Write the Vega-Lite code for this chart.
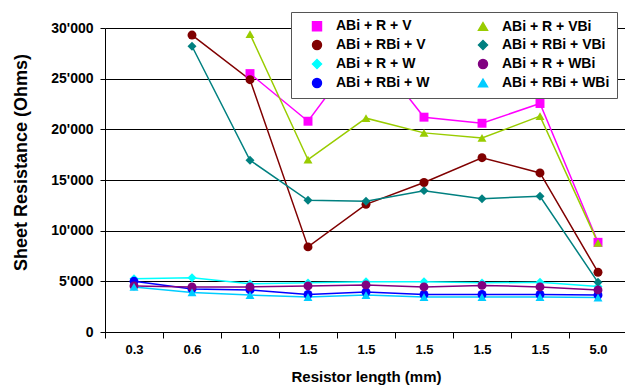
{
  "$schema": "https://vega.github.io/schema/vega-lite/v6.json",
  "width": 522,
  "height": 304,
  "autosize": "none",
  "padding": {"left": 105, "top": 28, "right": 0, "bottom": 54},
  "config": {
    "view": {"stroke": null},
    "font": "Liberation Sans",
    "axis": {
      "labelFont": "Liberation Sans",
      "titleFont": "Liberation Sans",
      "labelFontWeight": "bold",
      "titleFontWeight": "bold",
      "labelColor": "#000",
      "titleColor": "#000",
      "domainColor": "#000",
      "tickColor": "#000",
      "gridColor": "#000",
      "gridOpacity": 1,
      "domainWidth": 1,
      "tickWidth": 1
    },
    "legend": {
      "labelFont": "Liberation Sans",
      "labelFontWeight": "bold",
      "labelFontSize": 14,
      "labelColor": "#000"
    }
  },
  "data": {
    "values": [
      {"pos": 3, "series": "ABi + R + V", "value": 25500},
      {"pos": 4, "series": "ABi + R + V", "value": 20800},
      {"pos": 5, "series": "ABi + R + V", "value": 28500},
      {"pos": 6, "series": "ABi + R + V", "value": 21200},
      {"pos": 7, "series": "ABi + R + V", "value": 20600},
      {"pos": 8, "series": "ABi + R + V", "value": 22550},
      {"pos": 9, "series": "ABi + R + V", "value": 8850},
      {"pos": 2, "series": "ABi + RBi + V", "value": 29300},
      {"pos": 3, "series": "ABi + RBi + V", "value": 24900},
      {"pos": 4, "series": "ABi + RBi + V", "value": 8400},
      {"pos": 5, "series": "ABi + RBi + V", "value": 12600},
      {"pos": 6, "series": "ABi + RBi + V", "value": 14750},
      {"pos": 7, "series": "ABi + RBi + V", "value": 17200},
      {"pos": 8, "series": "ABi + RBi + V", "value": 15700},
      {"pos": 9, "series": "ABi + RBi + V", "value": 5900},
      {"pos": 1, "series": "ABi + R + W", "value": 5250},
      {"pos": 2, "series": "ABi + R + W", "value": 5350},
      {"pos": 3, "series": "ABi + R + W", "value": 4750},
      {"pos": 4, "series": "ABi + R + W", "value": 4850},
      {"pos": 5, "series": "ABi + R + W", "value": 4950},
      {"pos": 6, "series": "ABi + R + W", "value": 4950},
      {"pos": 7, "series": "ABi + R + W", "value": 4850},
      {"pos": 8, "series": "ABi + R + W", "value": 4900},
      {"pos": 9, "series": "ABi + R + W", "value": 4500},
      {"pos": 1, "series": "ABi + RBi + W", "value": 5000},
      {"pos": 2, "series": "ABi + RBi + W", "value": 4250},
      {"pos": 3, "series": "ABi + RBi + W", "value": 4150},
      {"pos": 4, "series": "ABi + RBi + W", "value": 3700},
      {"pos": 5, "series": "ABi + RBi + W", "value": 3950},
      {"pos": 6, "series": "ABi + RBi + W", "value": 3700},
      {"pos": 7, "series": "ABi + RBi + W", "value": 3700},
      {"pos": 8, "series": "ABi + RBi + W", "value": 3700},
      {"pos": 9, "series": "ABi + RBi + W", "value": 3650},
      {"pos": 3, "series": "ABi + R + VBi", "value": 29400},
      {"pos": 4, "series": "ABi + R + VBi", "value": 17000},
      {"pos": 5, "series": "ABi + R + VBi", "value": 21100},
      {"pos": 6, "series": "ABi + R + VBi", "value": 19650},
      {"pos": 7, "series": "ABi + R + VBi", "value": 19150},
      {"pos": 8, "series": "ABi + R + VBi", "value": 21300},
      {"pos": 9, "series": "ABi + R + VBi", "value": 8800},
      {"pos": 2, "series": "ABi + RBi + VBi", "value": 28200},
      {"pos": 3, "series": "ABi + RBi + VBi", "value": 16950},
      {"pos": 4, "series": "ABi + RBi + VBi", "value": 13000},
      {"pos": 5, "series": "ABi + RBi + VBi", "value": 12900},
      {"pos": 6, "series": "ABi + RBi + VBi", "value": 13950},
      {"pos": 7, "series": "ABi + RBi + VBi", "value": 13150},
      {"pos": 8, "series": "ABi + RBi + VBi", "value": 13400},
      {"pos": 9, "series": "ABi + RBi + VBi", "value": 4900},
      {"pos": 1, "series": "ABi + R + WBi", "value": 4550},
      {"pos": 2, "series": "ABi + R + WBi", "value": 4450},
      {"pos": 3, "series": "ABi + R + WBi", "value": 4450},
      {"pos": 4, "series": "ABi + R + WBi", "value": 4550},
      {"pos": 5, "series": "ABi + R + WBi", "value": 4650},
      {"pos": 6, "series": "ABi + R + WBi", "value": 4450},
      {"pos": 7, "series": "ABi + R + WBi", "value": 4600},
      {"pos": 8, "series": "ABi + R + WBi", "value": 4450},
      {"pos": 9, "series": "ABi + R + WBi", "value": 4150},
      {"pos": 1, "series": "ABi + RBi + WBi", "value": 4450},
      {"pos": 2, "series": "ABi + RBi + WBi", "value": 3900},
      {"pos": 3, "series": "ABi + RBi + WBi", "value": 3650},
      {"pos": 4, "series": "ABi + RBi + WBi", "value": 3450},
      {"pos": 5, "series": "ABi + RBi + WBi", "value": 3650},
      {"pos": 6, "series": "ABi + RBi + WBi", "value": 3450},
      {"pos": 7, "series": "ABi + RBi + WBi", "value": 3450},
      {"pos": 8, "series": "ABi + RBi + WBi", "value": 3450},
      {"pos": 9, "series": "ABi + RBi + WBi", "value": 3400}
    ]
  },
  "encoding": {
    "x": {
      "field": "pos",
      "type": "ordinal",
      "scale": {"paddingInner": 0, "paddingOuter": 0},
      "axis": {
        "title": "Resistor length (mm)",
        "titleFontSize": 15,
        "titlePadding": 13,
        "labelFontSize": 13,
        "labelAngle": 0,
        "labelPadding": 5,
        "tickSize": 6,
        "tickBand": "extent",
        "grid": false,
        "labelExpr": "datum.value == 1 ? '0.3' : datum.value == 2 ? '0.6' : datum.value == 3 ? '1.0' : datum.value == 9 ? '5.0' : (datum.value >= 4 && datum.value <= 8) ? '1.5' : ''"
      }
    },
    "y": {
      "field": "value",
      "type": "quantitative",
      "scale": {"domain": [0, 30000], "nice": false},
      "axis": {
        "title": "Sheet Resistance (Ohms)",
        "titleFontSize": 18,
        "titlePadding": 20,
        "titleY": 134,
        "labelFontSize": 14,
        "labelPadding": 7,
        "tickSize": 5,
        "values": [0, 5000, 10000, 15000, 20000, 25000, 30000],
        "grid": true,
        "labelExpr": "replace(format(datum.value, ','), ',', \"'\")"
      }
    },
    "color": {
      "field": "series",
      "type": "nominal",
      "scale": {
        "domain": ["ABi + R + V", "ABi + RBi + V", "ABi + R + W", "ABi + RBi + W", "ABi + R + VBi", "ABi + RBi + VBi", "ABi + R + WBi", "ABi + RBi + WBi"],
        "range": ["#FF00FF", "#800000", "#00FFFF", "#0000FF", "#99CC00", "#008080", "#800080", "#00CCFF"]
      },
      "legend": {
        "title": null,
        "orient": "none",
        "legendX": 186,
        "legendY": -16,
        "columns": 2,
        "columnPadding": 34,
        "rowPadding": 3,
        "padding": 7,
        "symbolSize": 80,
        "symbolOffset": 12,
        "symbolOpacity": 1,
        "fillColor": "#ffffff",
        "strokeColor": "#555555",
        "labelOffset": 12
      }
    }
  },
  "layer": [
    {"mark": {"type": "line", "strokeWidth": 1.5}},
    {
      "mark": {"type": "point", "filled": true, "size": 80, "opacity": 1},
      "encoding": {
        "shape": {
          "field": "series",
          "type": "nominal",
          "scale": {
            "domain": ["ABi + R + V", "ABi + RBi + V", "ABi + R + W", "ABi + RBi + W", "ABi + R + VBi", "ABi + RBi + VBi", "ABi + R + WBi", "ABi + RBi + WBi"],
            "range": ["square", "circle", "diamond", "circle", "triangle-up", "diamond", "circle", "triangle-up"]
          }
        }
      }
    }
  ]
}
